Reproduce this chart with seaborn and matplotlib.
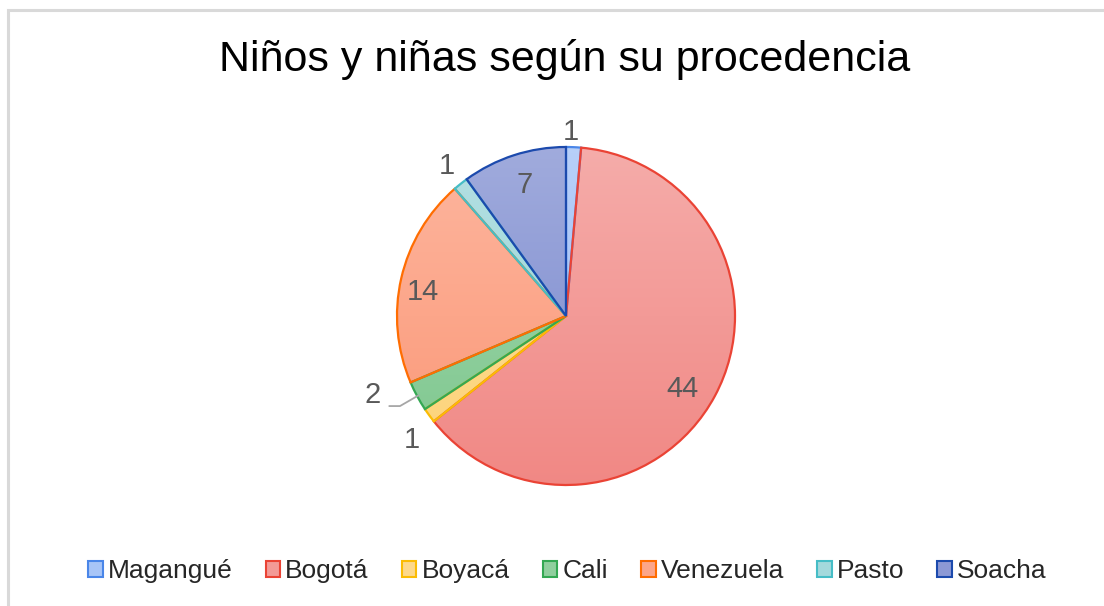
import numpy as np
import matplotlib
matplotlib.use("Agg")
import matplotlib.pyplot as plt
import seaborn as sns
from matplotlib.patches import Patch, Rectangle
from matplotlib.colors import to_rgb

# datos
lugares = ['Magangué', 'Bogotá', 'Boyacá', 'Cali', 'Venezuela', 'Pasto', 'Soacha']
ninos = [1, 44, 1, 2, 14, 1, 7]
bordes = ['#4a86e8', '#ea4335', '#fbbc04', '#34a853', '#ff6d01', '#46bdc6', '#1c4aad']
rellenos = ['#a8c5f7', '#f39a97', '#fdd98b', '#90cf9e', '#fca68a', '#a4d9dc', '#8c99d5']

sns.set_theme(style='white')
plt.rcParams['font.family'] = ['Liberation Sans', 'DejaVu Sans']

fig = plt.figure(figsize=(11.04, 6.06), dpi=100)
W, H = 1104, 606

# marco gris del grafico
fig.patches.append(Rectangle((8 / W, -0.1), 1.2, 1 - 10 / H + 0.1, transform=fig.transFigure,
                             fill=False, edgecolor='#d9d9d9', lw=2.2))

cx, cy, R = 566, 316, 169
pad = 1.03
ax = fig.add_axes([(cx - R * pad) / W, (H - cy - R * pad) / H, 2 * R * pad / W, 2 * R * pad / H])

wedges, _ = ax.pie(ninos, startangle=90, counterclock=False, radius=1,
                   colors=['none'] * len(ninos),
                   wedgeprops=dict(edgecolor='none'))

# relleno con degradado vertical (mas claro arriba)
alpha = np.linspace(0.46, 0.66, 256)[:, None]
for w, f in zip(wedges, rellenos):
    base = np.clip(1 - (1 - np.array(to_rgb(f))) / 0.56, 0, 1)
    img = 1 - alpha[:, :, None] * (1 - base[None, None, :])
    img = np.repeat(img, 2, axis=1)
    im = ax.imshow(img, extent=(-1, 1, -1, 1), origin='upper', aspect='auto',
                   interpolation='bilinear', zorder=1)
    im.set_clip_path(w)
for w, c in zip(wedges, bordes):
    w.set_edgecolor(c)
    w.set_linewidth(1.6)
    w.set_zorder(2)

ax.set_xlim(-pad, pad)
ax.set_ylim(-pad, pad)
ax.set_aspect('equal')
ax.axis('off')

# etiquetas de datos
dist = [1.11, 0.805, 1.16, None, 0.86, 1.15, 0.83]
giro = [1.0, -2.6, 2.2, 0, 2.0, -0.7, -1.0]
gris = '#595959'
for w, v, d, g in zip(wedges, ninos, dist, giro):
    ang = np.deg2rad((w.theta1 + w.theta2) / 2 + g)
    if d is None:
        ex, ey = np.cos(ang), np.sin(ang)
        a2 = ang - np.deg2rad(4.5)
        ax.annotate(str(v), xy=(ex * 0.99, ey * 0.99), xytext=(1.20 * np.cos(a2), 1.20 * np.sin(a2) - 0.03),
                    ha='right', va='baseline', fontsize=21, color=gris,
                    arrowprops=dict(arrowstyle='-', color='#a6a6a6', lw=1.3, shrinkA=4, shrinkB=0,
                                    relpos=(1, 0.1), connectionstyle='angle,angleA=0,angleB=30'))
    else:
        ax.text(d * np.cos(ang), d * np.sin(ang) - 0.018, str(v), ha='center', va='center',
                fontsize=21, color=gris)

fig.text(564.5 / W, 1 - 59 / H, 'Niños y niñas según su procedencia', ha='center', va='center',
         fontsize=31, color='#000000')

handles = [Patch(facecolor=f, edgecolor=c, lw=1.5) for f, c in zip(rellenos, bordes)]
fig.legend(handles, lugares, loc='center', bbox_to_anchor=(0.514, 1 - 571 / H), ncol=7,
           frameon=False, fontsize=19, handlelength=0.55, handleheight=0.55,
           handletextpad=0.2, columnspacing=1.25)

fig.savefig('out.png', dpi=100)
